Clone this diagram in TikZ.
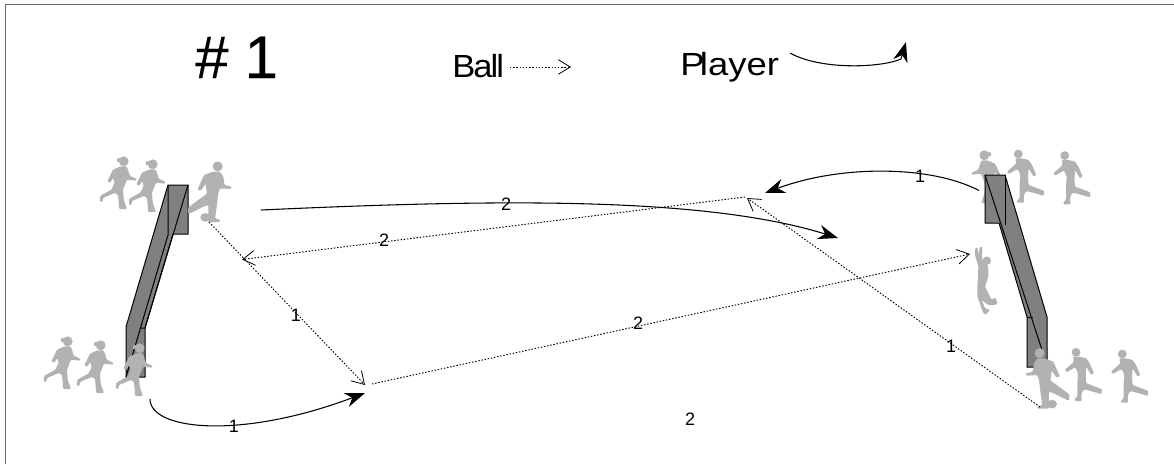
\documentclass[tikz,border=0pt]{standalone}
\usepackage{fontspec}
\setmainfont{Liberation Sans}
\usetikzlibrary{arrows.meta}
\definecolor{fig}{HTML}{B2B2B2}
\definecolor{goalgray}{HTML}{808080}
\tikzset{
  x=0.75pt,y=-0.75pt,
  frameline/.style={draw=black!60,line width=1.2pt},
  goalface/.style={draw=black,line width=0.75pt,fill=goalgray},
  goalline/.style={draw=black,line width=0.75pt},
  ballpath/.style={line width=0.7pt,dash pattern=on 1.1pt off 1.3pt,-{Straight Barb[length=9pt,width=11pt,line width=0.6pt]}},
  playerpath/.style={line width=0.8pt,-{Stealth[length=15pt,width=11pt]}},
  plainpath/.style={line width=0.8pt},
  lab/.style={font=\fontsize{13.5pt}{14pt}\selectfont,inner sep=0pt},
  figfill/.style={fill=fig,rounded corners=0.8pt},
  girl/.pic={
    \fill[fig] (5.7,-21.7) circle (4.9);
    \fill[fig] (2.5,-25) -- (-1,-24.5) -- (-1,-21) -- (2,-21.5) -- cycle;
    \fill[figfill] (2.7,-16.7) -- (8.3,-16.7) -- (10,-13.3) -- (11.7,-7.3) -- (18.3,-4.3) -- (18.3,-2.3) -- (9,-3.3) -- (7.7,0) -- (5,6.7) -- (5.7,16.7) -- (8.3,24.3) -- (9,26) -- (1,26) -- (1,23.3) -- (0,11.7) -- (-3.3,10) -- (-15,15) -- (-15.7,19.3) -- (-18.3,18.3) -- (-17.7,12.7) -- (-6.7,6.7) -- (-3.3,0) -- (-5,-5) -- (-7.7,0) -- (-10.7,-1.7) -- (-5,-13.3) -- cycle;
  },
  runman/.pic={
    \fill[fig] (-7,-22.7) circle (4.4);
    \fill[figfill] (-10,-18.3) -- (-3.3,-18.3) -- (3.3,-16.7) -- (6.7,-11.7) -- (11,-1.7) -- (8.3,0) -- (3.3,-8.3) -- (2.7,1.7) -- (3.3,8.3) -- (16.7,13.3) -- (19,14.3) -- (18.3,19.3) -- (15.7,18.3) -- (1.7,14.3) -- (-1,16.7) -- (-1.7,23.3) -- (-1,26) -- (-8.3,26) -- (-8.3,23.7) -- (-5.7,21.7) -- (-5.7,8.3) -- (-5,-1.7) -- (-7.7,-7.7) -- (-16.7,-2.7) -- (-18.3,-5) -- (-9,-13.3) -- cycle;
  },
  kicker/.pic={
    \fill[fig] (7.7,-25.3) circle (5);
    \fill[figfill] (2.7,-20) -- (10,-20) -- (13.3,-15) -- (14.5,-6.7) -- (21.7,-5) -- (21,-2.7) -- (10,-3.3) -- (8.3,1.7) -- (6.7,15) -- (5,26.7) -- (10,28) -- (10,30.3) -- (-1.7,30.3) -- (-1.5,26.7) -- (-1.7,13.3) -- (-6.7,15) -- (-20,21.7) -- (-22,22) -- (-22,16) -- (-11.7,8.3) -- (-3,2) -- (-4.5,-8) -- (-9,-1) -- (-12.7,-1.7) -- (-6,-16.7) -- cycle;
    \fill[fig] (-4.7,25.7) ellipse (5 and 4.3);
  },
  jumper/.pic={
    \fill[fig] (0,-19.3) circle (4.3);
    \fill[figfill] (-11.7,-31.7) -- (-9.3,-32.7) -- (-8.3,-25) -- (-6.7,-33.3) -- (-4.3,-33.3) -- (-4.7,-20) -- (1.7,-13.3) -- (1.7,-3.3) -- (-1.7,6.7) -- (5,20) -- (8.3,17.3) -- (11,23.3) -- (8.3,25) -- (1.7,25) -- (-5,20) -- (-1.7,28.3) -- (3.3,30) -- (-1.7,35) -- (-4,31.7) -- (-9.3,16.7) -- (-9.3,6.7) -- (-8.3,-13.3) -- (-11.7,-25) -- cycle;
  }
}
\begin{document}
\begin{tikzpicture}
\useasboundingbox (0,0) rectangle (1174,464);
\path[fill=white] (0,0) rectangle (1174,464);
\draw[frameline] (5.5,464) -- (5.5,4.5) -- (1174,4.5);

% figures behind the goals
\pic at (118,183) {girl};
\pic at (147,186) {girl};
\pic at (62,363) {girl};
\pic at (95,367) {girl};
\pic[xscale=-1] at (990,177) {girl};

% left goal
\path[goalface] (168,185) -- (188,185) -- (188,234) -- (173,234) -- (145,328) -- (145,377) -- (126,377) -- (126,327) -- cycle;
\draw[goalline] (168,185) -- (168,235) -- (126,377);
\draw[goalline] (188,185) -- (145,328) -- (141,328);
% right goal
\path[goalface] (985,175) -- (1005,175) -- (1047,317) -- (1047,367) -- (1027,367) -- (1027,317) -- (999,223) -- (985,223) -- cycle;
\draw[goalline] (1005,175) -- (1005,225);
\draw[goalline] (985,175) -- (1042,350);
\draw[goalline] (1027,317) -- (1033,317);

% figures in front of the goals
\pic at (210,191.7) {kicker};
\pic at (134,370) {girl};
\pic at (1025.3,176.7) {runman};
\pic at (1071.7,178.3) {runman};
\pic at (986.7,280) {jumper};
\pic[xscale=-1] at (1047.3,378.4) {kicker};
\pic at (1083,375) {runman};
\pic at (1129.3,376.7) {runman};

% anchors
\coordinate (lball) at (209,222);
\coordinate (m1) at (365,385);
\coordinate (m2) at (372,384);
\coordinate (rjump) at (970,254);
\coordinate (c1) at (745,197);
\coordinate (lrec) at (242,259.5);
\coordinate (rball) at (1040,407);
\coordinate (c2) at (747,198);
\coordinate (p1s) at (261,210);
\coordinate (p1e) at (838,238);
\coordinate (p2s) at (979,190.5);
\coordinate (p2e) at (765,193);
\coordinate (p3s) at (150,399);
\coordinate (p3e) at (365,393);

\draw[ballpath] (lball) -- (m1);
\draw[ballpath] (m2) -- (rjump);
\draw[ballpath] (c1) -- (lrec);
\draw[ballpath] (rball) -- (c2);
\draw[playerpath] (p1s) .. controls (480,200) and (700,195) .. (p1e);
\draw[playerpath] (p2s) .. controls (930,165) and (840,165) .. (p2e);
\draw[playerpath] (p3s) .. controls (150,430) and (240,440) .. (p3e);

\node[lab] (n1) at (296,315) {1};
\node[lab] (n2) at (638,323) {2};
\node[lab] (n3) at (384,240) {2};
\node[lab] (n4) at (951,346) {1};
\node[lab] (n5) at (506,204) {2};
\node[lab] (n6) at (920,176) {1};
\node[lab] (n7) at (234,426) {1};
\node[lab] (n8) at (690,419) {2};

% legend
\node[inner sep=0pt,anchor=base west,font=\fontsize{45pt}{46pt}\selectfont] (title) at (195,78) {\addfontfeature{LetterSpace=-1,FakeBold=0.3}\# 1};
\node[inner sep=0pt,anchor=base west,font=\fontsize{24pt}{25pt}\selectfont] (ball) at (452,77) {\addfontfeature{FakeStretch=1.08,LetterSpace=-6}Ball};
\node[inner sep=0pt,anchor=base west,font=\fontsize{24pt}{25pt}\selectfont] (player) at (680,75) {\addfontfeature{FakeStretch=1.14}P\kern-3.5pt layer};
\coordinate (ballend) at (571,67);
\draw[ballpath] (510,67) -- (ballend);
\coordinate (pls) at (790,53);
\coordinate (plm) at (901,59);
\coordinate (plend) at (906,42);
\draw[plainpath] (pls) .. controls (820,70) and (880,68) .. (plm);
\draw[playerpath] (plm) -- (plend);
\end{tikzpicture}
\end{document}
